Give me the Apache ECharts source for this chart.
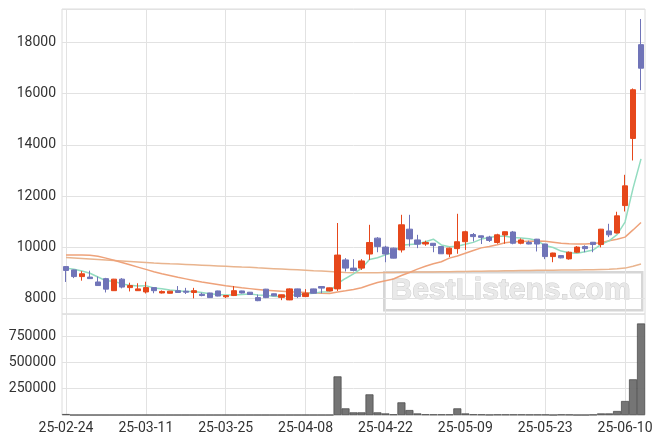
<!DOCTYPE html>
<html><head><meta charset="utf-8">
<script src="https://cdn.jsdelivr.net/npm/echarts@6/dist/echarts.min.js"></script>
<style>html,body{margin:0;padding:0;background:#fff}#c{width:663px;height:444px}</style>
</head><body><div id="c"></div>
<script>
const dates = ['25-02-24','25-02-25','25-02-26','25-02-27','25-02-28','25-03-04','25-03-05','25-03-06','25-03-07','25-03-10',
'25-03-11','25-03-12','25-03-13','25-03-14','25-03-17','25-03-18','25-03-19','25-03-20','25-03-21','25-03-24',
'25-03-25','25-03-26','25-03-27','25-03-28','25-03-31','25-04-01','25-04-02','25-04-03','25-04-04','25-04-07',
'25-04-08','25-04-09','25-04-10','25-04-11','25-04-14','25-04-15','25-04-16','25-04-17','25-04-18','25-04-21',
'25-04-22','25-04-23','25-04-24','25-04-25','25-04-28','25-04-29','25-04-30','25-05-02','25-05-07','25-05-08',
'25-05-09','25-05-12','25-05-13','25-05-14','25-05-15','25-05-16','25-05-19','25-05-20','25-05-21','25-05-22',
'25-05-23','25-05-26','25-05-27','25-05-28','25-05-29','25-05-30','25-06-02','25-06-04','25-06-05','25-06-09',
'25-06-10','25-06-11','25-06-12'];
const opens = [9250,9120,8860,8840,8650,8780,8310,8760,8430,8310,
8260,8430,8220,8210,8310,8290,8240,8170,8220,8300,
8070,8120,8300,8250,8040,8370,8190,8050,7950,8380,
8080,8380,8470,8300,8380,9510,9190,9190,9740,10360,
10010,9970,9900,10710,10290,10130,10160,10030,9740,9950,
10220,10500,10450,10400,10190,10480,10600,10160,10190,10320,
10130,9640,9680,9550,9810,10030,10200,10110,10640,10560,
11630,14250,17910];
const closes = [9100,8860,8970,8780,8510,8370,8760,8450,8510,8380,
8430,8310,8280,8290,8240,8250,8310,8120,8040,8100,
8120,8310,8220,8160,7920,8040,8110,8150,8380,8080,
8210,8210,8410,8420,9700,9190,9100,9470,10190,10030,
9740,9580,10880,10330,10125,10190,10070,9750,9970,10220,
10610,10420,10390,10270,10490,10610,10160,10290,10130,10130,
9640,9780,9590,9810,10010,9950,10110,10710,10490,11230,
12400,16150,16990];
const lows = [8650,8800,8700,8770,8500,8240,8300,8400,8280,8300,
8200,8210,8200,8200,8230,8180,8010,8090,8030,8090,
8020,8100,8200,8150,7900,8020,8100,7940,7940,8020,
8070,8200,8210,8290,8300,9060,9060,9120,9510,9810,
9420,9570,9800,10030,9970,10060,9810,9740,9620,9750,
9900,10230,10130,10210,10140,10140,10120,10120,10120,9840,
9540,9420,9570,9520,9780,9810,9810,10000,10400,10540,
11400,13390,16130];
const highs = [9260,9130,9070,9090,8860,8810,8770,8800,8620,8600,
8660,8440,8320,8300,8490,8420,8420,8230,8230,8310,
8130,8490,8310,8260,8160,8380,8200,8160,8400,8390,
8370,8390,8490,8430,10950,9580,9540,9540,10880,10400,
10060,9990,11270,11270,10490,10260,10170,10040,9990,11310,
10650,10560,10460,10450,10530,10620,10640,10350,10260,10330,
10140,9790,9690,9840,10050,10080,10210,10720,10920,11390,
12830,16200,18910];
const ma5 = [9190,9150,9080,8990,8844,8698,8678,8574,8520,8494,
8506,8416,8382,8338,8310,8274,8274,8242,8192,8164,
8138,8138,8158,8182,8146,8130,8090,8076,8120,8152,
8186,8206,8258,8266,8590,8786,8964,9176,9530,9596,
9706,9802,10084,10112,10131,10221,10319,10093,10021,10040,
10124,10194,10322,10382,10436,10436,10384,10364,10336,10264,
10070,9994,9854,9790,9766,9828,9894,10118,10254,10498,
10988,12300,13452];
const ma20 = [9700,9700,9700,9695,9650,9580,9500,9410,9320,9230,
9140,9050,8970,8900,8830,8770,8710,8650,8600,8550,
8500,8460,8420,8390,8360,8330,8310,8290,8270,8260,
8240,8230,8210,8200,8262,8306,8355,8426,8530,8626,
8697,8765,8901,9021,9150,9260,9360,9440,9580,9660,
9770,9880,9980,10030,10100,10180,10220,10230,10240,10250,
10240,10200,10160,10140,10130,10130,10150,10180,10260,10320,
10400,10680,10970];
const ma60 = [9600,9585,9570,9550,9530,9510,9490,9470,9450,9430,
9410,9390,9375,9360,9350,9335,9320,9305,9290,9275,
9260,9245,9230,9220,9200,9185,9170,9155,9140,9125,
9110,9090,9075,9060,9040,9020,9010,9005,9005,9010,
9015,9015,9025,9030,9035,9040,9040,9045,9050,9055,
9060,9065,9070,9075,9080,9085,9090,9095,9100,9105,
9110,9110,9115,9115,9120,9125,9130,9140,9150,9165,
9190,9260,9350];
const volumes = [9000,0,0,0,0,0,0,0,0,0,
0,0,0,0,0,0,0,0,0,0,
0,0,0,0,0,0,0,0,0,0,
0,0,0,0,367000,63000,25000,25000,196000,25000,
15000,6000,120000,47000,15000,6000,5000,5000,5000,63000,
15000,6000,5000,2000,4000,4000,4000,4000,3000,3000,
3000,0,4000,3000,0,0,3000,15000,15000,38000,
133000,339000,870000];

const candleData = dates.map((d, i) => [opens[i], closes[i], lows[i], highs[i]]);
const UP = '#e6471b', DOWN = '#7074b8';
const labelFont = {fontFamily: 'Roboto', fontSize: 14, color: '#333', formatter: v => String(v)};
const gridLine = {color: '#e2e2e2', width: 1};

const chart = echarts.init(document.getElementById('c'));
chart.setOption({
  animation: false,
  backgroundColor: '#fff',
  grid: [
    {left: 62, right: 18, top: 9, height: 305, show: true, borderColor: '#dcdcdc', borderWidth: 1},
    {left: 62, right: 18, top: 314, height: 101, show: true, borderColor: '#dcdcdc', borderWidth: 1}
  ],
  xAxis: [
    {type: 'category', gridIndex: 0, data: dates, boundaryGap: true,
     axisLabel: {show: false, interval: 9}, axisTick: {show: false, interval: 9, alignWithLabel: true}, axisLine: {show: false},
     splitLine: {show: true, interval: 9, alignWithLabel: true, lineStyle: gridLine}},
    {type: 'category', gridIndex: 1, data: dates, boundaryGap: true,
     axisLabel: Object.assign({}, labelFont, {interval: 9, margin: 6}),
     axisTick: {show: false, interval: 9, alignWithLabel: true}, axisLine: {show: false},
     splitLine: {show: true, interval: 9, alignWithLabel: true, lineStyle: gridLine}}
  ],
  yAxis: [
    {type: 'value', gridIndex: 0, min: 7400, max: 19300, splitNumber: 5,
     axisLabel: Object.assign({}, labelFont, {showMinLabel: false, showMaxLabel: false, margin: 6}),
     axisLine: {show: false}, axisTick: {show: false}, splitLine: {lineStyle: gridLine}},
    {type: 'value', gridIndex: 1, min: 0, max: 960000, interval: 250000,
     axisLabel: Object.assign({}, labelFont, {showMinLabel: false, showMaxLabel: false, margin: 6}),
     axisLine: {show: false}, axisTick: {show: false}, splitLine: {lineStyle: gridLine}}
  ],
  graphic: [
    {type: 'rect', left: 383, top: 271, z: 0,
     shape: {width: 258, height: 38},
     style: {fill: 'rgba(255,255,255,0)', stroke: '#d6d6d6', lineWidth: 2.5}},
    {type: 'text', left: 390, top: 275, z: 0,
     style: {text: 'BestListens.com', font: 'bold 30px "Liberation Sans", Arial, sans-serif',
             fill: '#e9e9e9', stroke: '#cccccc', lineWidth: 1}}
  ],
  series: [
    {type: 'line', name: 'MA60', xAxisIndex: 0, yAxisIndex: 0, data: ma60, symbol: 'none',
     lineStyle: {color: '#e9b48e', width: 1.5}, z: 3},
    {type: 'line', name: 'MA20', xAxisIndex: 0, yAxisIndex: 0, data: ma20, symbol: 'none',
     lineStyle: {color: '#eea27a', width: 1.5}, z: 3},
    {type: 'line', name: 'MA5', xAxisIndex: 0, yAxisIndex: 0, data: ma5, symbol: 'none',
     lineStyle: {color: '#93dcc0', width: 1.5}, z: 3},
    {type: 'candlestick', xAxisIndex: 0, yAxisIndex: 0, data: candleData, barWidth: '72%', z: 5,
     itemStyle: {color: UP, color0: DOWN, borderColor: UP, borderColor0: DOWN, borderWidth: 1}},
    {type: 'bar', xAxisIndex: 1, yAxisIndex: 1, data: volumes, barCategoryGap: '0%',
     itemStyle: {color: 'rgba(110,110,110,0.95)', borderColor: '#444', borderWidth: 0.7}}
  ]
});
</script></body></html>
